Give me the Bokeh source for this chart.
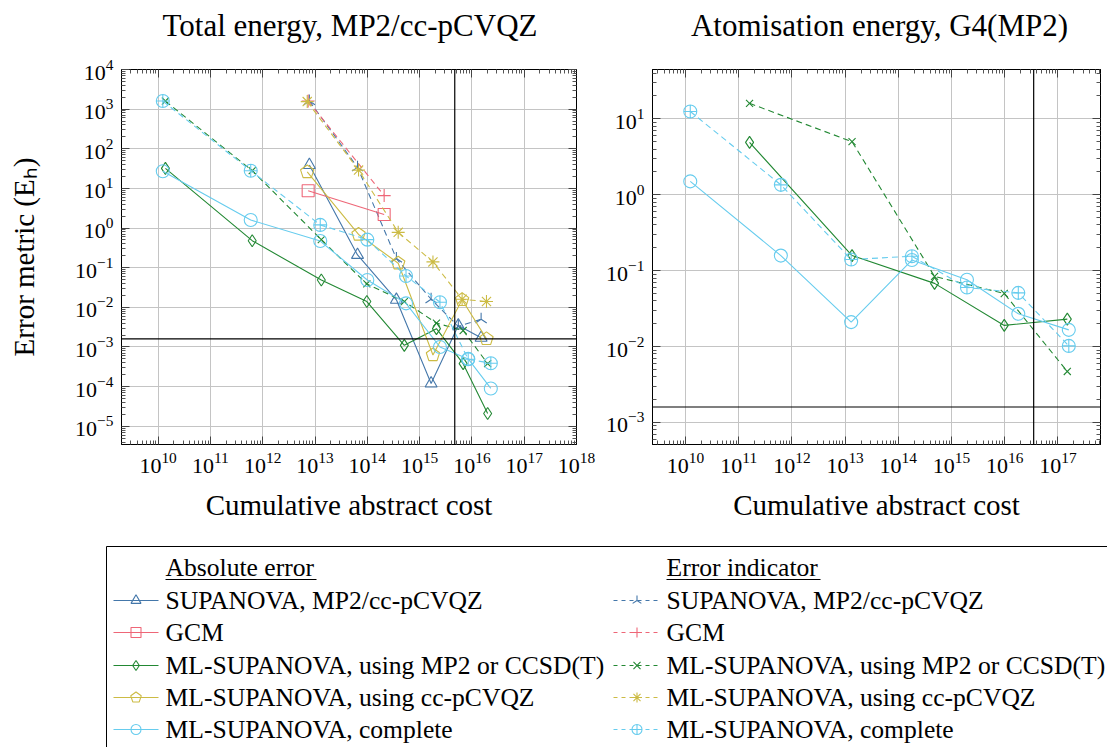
import numpy as np
from bokeh.plotting import figure
from bokeh.models import FixedTicker, LogAxis, Span, Range1d, LogTickFormatter, CustomJSTickFormatter
from bokeh.layouts import column, row
from bokeh.embed import file_html
from bokeh.resources import INLINE
from bokeh.core.properties import value

FONT = "Liberation Serif"
BLUE = "#4477AA"; RED = "#EE6677"; GREEN = "#228833"; YELLOW = "#CCBB44"; CYAN = "#66CCEE"

# ---------------- Left panel: total energy ----------------
sup_x = [7.8e12, 6.5e13, 3.6e14, 1.66e15, 5.5e15, 1.5e16]
sup_abs = [39, 0.21, 0.0155, 1.2e-4, 3.5e-3, 1.7e-3]
sup_ind = [1.6e3, 34, 0.17, 0.016, 3.3e-3, 5.0e-3]
gcm_x = [7.4e12, 2.1e14]
gcm_abs = [8.7, 2.2]
gcm_ind = [1.6e3, 6.6]
mlm_x = [1.38e10, 6.3e11, 1.32e13, 9.8e13, 5.1e14, 2.1e15, 6.8e15, 2.0e16]
mlm_abs = [32, 0.48, 0.049, 0.014, 1.1e-3, 2.9e-3, 3.8e-4, 2.1e-5]
mlm_ind = [1.6e3, 28, 0.51, 0.039, 0.014, 4.0e-3, 2.6e-3, 3.8e-4]
mlb_x = [7.1e12, 6.8e13, 3.9e14, 1.8e15, 6.5e15, 1.9e16]
mlb_abs = [26, 0.69, 0.13, 6.3e-4, 0.0155, 1.6e-3]
mlb_ind = [1.55e3, 29, 0.78, 0.14, 0.016, 0.014]
mlc_x = [1.23e10, 5.9e11, 1.26e13, 1.0e14, 5.5e14, 2.45e15, 8.5e15, 2.3e16]
mlc_abs = [27, 1.6, 0.47, 0.049, 0.0126, 1.0e-3, 5.0e-4, 9.0e-5]
mlc_ind = [1.6e3, 28, 1.2, 0.51, 0.062, 0.0135, 4.9e-4, 3.9e-4]
left_budget = 4.7e15

# ---------------- Right panel: atomisation energy ----------------
r_mlm_x = [1.6e11, 1.35e13, 4.8e14, 9.8e15, 1.5e17]
r_mlm_abs = [4.9, 0.158, 0.068, 0.019, 0.023]
r_mlm_ind = [16, 5.0, 0.084, 0.050, 0.0047]
r_mlc_x = [1.23e10, 6.2e11, 1.3e13, 1.8e14, 1.95e15, 1.8e16, 1.6e17]
r_mlc_abs = [1.5, 0.158, 0.021, 0.138, 0.076, 0.027, 0.0166]
r_mlc_ind = [12.5, 1.35, 0.14, 0.155, 0.060, 0.051, 0.0102]
right_budget = 3.5e16

chem_acc = 1.6e-3

left_xticks = [10.0 ** e for e in range(10, 19)]
left_yticks = [10.0 ** e for e in range(-5, 5)]
right_xticks = [10.0 ** e for e in range(10, 18)]
right_yticks = [10.0 ** e for e in range(-3, 2)]

titles = ["Total energy, MP2/cc-pCVQZ", "Atomisation energy, G4(MP2)"]
xlabel = "Cumulative abstract cost"
ylabel = "Error metric (E\u2095)"
leg_labels = ["SUPANOVA, MP2/cc-pCVQZ", "GCM", "ML-SUPANOVA, using MP2 or CCSD(T)",
              "ML-SUPANOVA, using cc-pCVQZ", "ML-SUPANOVA, complete"]
leg_headers = ["Absolute error", "Error indicator"]

DASH = "6 4"
TH = 50      # height of the title strip
PH = 490     # height of each plot


def minors(lo, hi):
    out = []
    for e in range(lo, hi + 1):
        for m in range(2, 10):
            out.append(m * 10.0 ** e)
    return out


def style_axis(ax, ticker, hide=False):
    ax.ticker = ticker
    ax.major_tick_in = 8
    ax.major_tick_out = 0
    ax.minor_tick_in = 4
    ax.minor_tick_out = 0
    ax.axis_line_color = "black"
    ax.major_tick_line_color = "#444444"
    ax.minor_tick_line_color = "#555555"
    ax.major_label_text_font = FONT
    ax.major_label_text_font_size = "22px"
    ax.major_label_text_color = "black"
    ax.axis_label_text_font = FONT
    ax.axis_label_text_font_size = "29px"
    ax.axis_label_text_font_style = "normal"
    ax.axis_label_text_color = "black"
    if hide:
        ax.formatter = CustomJSTickFormatter(code="return ''")
        ax.major_label_text_font_size = "1px"
        ax.major_label_standoff = 0
    else:
        ax.formatter = LogTickFormatter()


def make_title(text, width, xc):
    t = figure(width=width, height=TH, x_range=Range1d(0, width), y_range=Range1d(0, TH),
               output_backend="svg", toolbar_location=None, min_border=0,
               x_axis_location=None, y_axis_location=None)
    t.grid.visible = False
    t.outline_line_color = None
    t.text(x=[xc], y=[TH - 25], text=[text], text_font=value(FONT), text_font_size="31px",
           text_align="center", text_baseline="middle", text_color="black")
    return t


def make_panel(xr, yr, xt, yt, xm, ym, width, mbl, mbr, ylab):
    p = figure(width=width, height=PH, x_axis_type="log", y_axis_type="log",
               x_range=Range1d(*xr), y_range=Range1d(*yr), output_backend="svg",
               toolbar_location=None, min_border_left=mbl, min_border_right=mbr,
               min_border_top=69 - TH, min_border_bottom=96)
    xtk = FixedTicker(ticks=xt, minor_ticks=minors(*xm))
    ytk = FixedTicker(ticks=yt, minor_ticks=minors(*ym))
    style_axis(p.xaxis[0], xtk)
    style_axis(p.yaxis[0], ytk)
    p.xaxis[0].major_label_standoff = 8
    p.yaxis[0].major_label_standoff = 8
    p.xaxis[0].axis_label = xlabel
    p.xaxis[0].axis_label_standoff = 13
    if ylab:
        p.yaxis[0].axis_label = ylab
        p.yaxis[0].axis_label_standoff = 32
    top = LogAxis()
    style_axis(top, xtk, hide=True)
    rgt = LogAxis()
    style_axis(rgt, ytk, hide=True)
    p.add_layout(top, "above")
    p.add_layout(rgt, "right")
    p.xgrid.ticker = xtk
    p.ygrid.ticker = ytk
    p.grid.grid_line_color = "#c4c4c4"
    p.grid.grid_line_width = 1
    p.outline_line_color = "black"
    return p


def pentagon(p, x, y, color, size, lw=1.1):
    try:
        p.ngon(x=x, y=y, radius=size / 2, radius_units="screen", n=5, angle=0.0,
               line_color=color, fill_color=None, line_width=lw)
    except Exception:
        p.scatter(x, y, marker="hex", size=size, line_color=color, fill_color=None)


def series(p, x, y, color, marker, dashed, size=12, angle=0.0):
    p.line(x, y, line_color=color, line_width=1.1, line_dash=DASH if dashed else "solid")
    if marker == "pentagon":
        pentagon(p, x, y, color, size + 2)
    else:
        p.scatter(x, y, marker=marker, size=size, line_color=color, fill_color=None,
                  line_width=1.1, angle=angle)


W1, W2 = 598, 509
p1 = make_panel((10 ** 9.3, 1e18), (10 ** -5.46, 1e4), left_xticks, left_yticks,
                (9, 17), (-6, 3), W1, 121, 22, ylabel)
p2 = make_panel((10 ** 9.38, 10 ** 17.8), (10 ** -3.29, 10 ** 1.65), right_xticks,
                right_yticks, (9, 17), (-4, 1), W2, 54, 7, None)
t1 = make_title(titles[0], W1, (121 + W1 - 22) / 2 + 1)
t2 = make_title(titles[1], W2, (54 + W2 - 7) / 2 + 3)

for p, xb in ((p1, left_budget), (p2, right_budget)):
    p.add_layout(Span(location=chem_acc, dimension="width", line_color="black", line_width=1.2))
    p.add_layout(Span(location=xb, dimension="height", line_color="black", line_width=1.2))

# left panel series
series(p1, sup_x, sup_abs, BLUE, "triangle", False, 12)
series(p1, sup_x, sup_ind, BLUE, "y", True, 13, np.pi)
series(p1, gcm_x, gcm_abs, RED, "square", False, 12)
series(p1, gcm_x, gcm_ind, RED, "cross", True, 13)
series(p1, mlm_x, mlm_abs, GREEN, "diamond", False, 12)
series(p1, mlm_x, mlm_ind, GREEN, "x", True, 10)
series(p1, mlb_x, mlb_abs, YELLOW, "pentagon", False, 12)
series(p1, mlb_x, mlb_ind, YELLOW, "asterisk", True, 13)
series(p1, mlc_x, mlc_abs, CYAN, "circle", False, 13)
series(p1, mlc_x, mlc_ind, CYAN, "circle_cross", True, 13)

# right panel series
series(p2, r_mlm_x, r_mlm_abs, GREEN, "diamond", False, 12)
series(p2, r_mlm_x, r_mlm_ind, GREEN, "x", True, 10)
series(p2, r_mlc_x, r_mlc_abs, CYAN, "circle", False, 13)
series(p2, r_mlc_x, r_mlc_ind, CYAN, "circle_cross", True, 13)

# ---------------- legend (y measured upward, in pixels) ----------------
LH = 747 - TH - PH
leg = figure(width=1107, height=LH, x_range=Range1d(0, 1107), y_range=Range1d(0, LH),
             output_backend="svg", toolbar_location=None, min_border=0,
             x_axis_location=None, y_axis_location=None)
leg.grid.visible = False
leg.outline_line_color = None
leg.line(x=[106, 106, 1110], y=[-3, LH - 6, LH - 6], line_color="black", line_width=1)

row_y = [LH - v for v in (60, 92, 125, 157, 189)]
cols = [(113, 158, 165), (613, 660, 666)]
abs_styles = [(BLUE, "triangle", 0.0), (RED, "square", 0.0), (GREEN, "diamond", 0.0),
              (YELLOW, "pentagon", 0.0), (CYAN, "circle", 0.0)]
ind_styles = [(BLUE, "y", np.pi), (RED, "cross", 0.0), (GREEN, "x", 0.0),
              (YELLOW, "asterisk", 0.0), (CYAN, "circle_cross", 0.0)]
for ci, (styles, dashed) in enumerate(((abs_styles, False), (ind_styles, True))):
    x0, x1, tx = cols[ci]
    xm = (x0 + x1) / 2
    for (color, marker, ang), yy in zip(styles, row_y):
        leg.line([x0, x1], [yy, yy], line_color=color, line_width=1.1,
                 line_dash="4 4" if dashed else "solid")
        if marker == "pentagon":
            pentagon(leg, [xm], [yy], color, 11)
        else:
            leg.scatter([xm], [yy], marker=marker, size=10, line_color=color,
                        fill_color=None, line_width=1.1, angle=ang)
    leg.text(x=[tx] * 5, y=row_y, text=leg_labels, text_font=value(FONT),
             text_font_size="25.6px", text_baseline="middle", text_align="left",
             text_color="black")
    leg.text(x=[tx], y=[LH - 27], text=[leg_headers[ci]], text_font=value(FONT),
             text_font_size="25.6px", text_baseline="middle", text_align="left",
             text_color="black")
    ulen = 151 if ci == 0 else 154
    leg.line([tx, tx + ulen], [LH - 39, LH - 39], line_color="black", line_width=1)

layout = column(row(t1, t2), row(p1, p2), leg)
open("out.html", "w").write(file_html(layout, INLINE))
